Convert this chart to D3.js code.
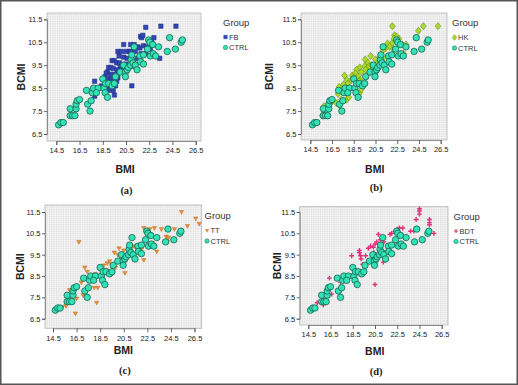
<!DOCTYPE html>
<html>
<head>
<meta charset="utf-8">
<script src="https://cdn.jsdelivr.net/npm/d3@7"></script>
<style>
  body { margin: 0; background: #fff; }
  svg { display: block; }
</style>
</head>
<body>
<svg width="518" height="385"></svg>
<script>
// tick labels
const xTicks = [14.5, 16.5, 18.5, 20.5, 22.5, 24.5, 26.5];
const yTicks = [6.5, 7.5, 8.5, 9.5, 10.5, 11.5];

// control group, same in all four panels  [BMI, BCMI]
const ctrl = [
  [14.7, 6.9], [14.9, 7.0], [15.1, 7.0],
  [15.7, 7.3], [15.9, 7.3], [16.1, 7.3],
  [15.7, 7.6], [16.2, 7.6], [16.2, 7.8], [16.3, 7.95], [16.5, 8.0],
  [17.1, 8.4], [17.2, 7.8], [17.4, 7.5], [17.5, 7.95], [17.6, 8.3], [17.7, 8.5], [18.1, 8.5], [17.95, 8.3],
  [18.5, 8.9], [18.6, 8.5], [18.7, 8.3], [18.9, 8.1], [18.75, 8.7], [19.0, 8.7], [19.3, 8.6], [19.5, 8.7], [19.6, 9.0],
  [20.0, 9.2], [20.3, 9.5], [20.45, 9.2], [20.45, 9.0], [20.6, 9.3], [20.7, 9.4], [20.9, 9.5], [20.95, 9.75],
  [21.1, 9.6], [21.0, 9.95], [21.3, 9.5], [21.45, 9.3], [21.2, 10.3], [21.7, 9.9], [21.75, 9.65], [22.0, 9.95],
  [22.35, 10.2], [22.0, 9.55], [22.45, 10.6], [22.55, 10.5], [22.6, 9.9], [22.85, 10.0], [23.05, 9.9], [22.8, 10.4],
  [23.3, 10.3], [24.05, 10.1], [24.25, 10.7], [24.75, 10.2], [25.25, 10.5], [25.35, 10.6]
];

const fb = [
  [22.2, 11.15], [23.5, 11.2], [24.8, 11.2],
  [21.75, 10.75], [21.85, 10.7], [21.95, 10.8], [22.5, 10.6], [22.7, 10.5], [22.9, 10.7],
  [20.3, 10.4], [20.9, 10.4], [21.2, 10.4], [21.5, 10.3], [21.7, 10.25], [22.0, 10.35], [22.3, 10.3], [22.6, 10.2],
  [19.8, 10.1], [20.1, 10.1], [20.5, 10.1], [20.8, 10.1], [20.9, 10.1], [21.3, 10.1], [21.8, 10.0], [22.2, 10.0],
  [19.9, 9.9], [20.3, 9.85], [20.6, 9.8], [21.1, 9.7], [21.5, 9.8], [23.4, 9.8],
  [19.3, 9.7], [19.5, 9.7], [19.7, 9.6], [19.95, 9.6], [20.5, 9.55], [21.0, 9.45],
  [19.0, 9.4], [19.2, 9.4], [19.4, 9.35], [19.75, 9.3], [20.0, 9.4], [20.2, 9.3],
  [18.9, 9.2], [18.8, 9.15], [19.2, 9.1], [19.6, 9.1], [19.9, 9.2], [20.2, 9.25],
  [18.7, 9.0], [18.9, 8.9], [19.2, 8.9], [19.3, 8.8], [19.7, 8.8], [19.8, 8.95],
  [18.4, 8.6], [18.7, 8.6], [19.1, 8.6], [19.0, 8.4], [19.4, 8.4], [19.6, 8.6], [19.5, 8.2],
  [17.8, 8.8], [17.8, 8.15], [21.0, 8.6]
];

const hk = [
  [22.05, 11.2], [24.9, 11.2], [26.25, 11.2], [24.45, 11.0],
  [22.25, 10.8], [22.45, 10.75], [22.2, 10.65], [22.65, 10.65], [22.5, 10.55],
  [22.0, 10.45], [21.6, 10.45], [21.8, 10.3], [22.15, 10.2], [21.45, 10.25], [21.2, 10.15],
  [22.95, 10.4], [23.3, 10.4], [23.1, 10.0],
  [20.05, 9.9], [20.5, 9.75], [20.9, 9.85], [21.2, 9.8], [19.55, 9.75], [19.8, 9.6],
  [19.5, 9.45], [19.9, 9.45], [20.15, 9.5], [19.05, 9.4], [18.75, 9.3], [19.2, 9.2],
  [19.6, 9.3], [20.0, 9.2], [20.25, 9.3], [20.65, 9.55], [20.75, 9.35],
  [18.35, 9.05], [18.65, 9.15], [18.9, 9.0], [18.25, 8.85], [18.5, 8.95], [19.1, 8.85], [19.0, 8.8],
  [17.65, 9.05], [17.85, 8.85], [17.95, 8.7], [17.55, 8.65], [17.15, 8.55], [17.05, 8.25],
  [17.35, 8.0], [17.85, 8.0], [18.05, 8.1], [16.9, 7.85], [17.2, 7.75],
  [16.45, 7.9], [16.3, 7.8], [15.75, 7.7], [15.75, 7.6], [15.6, 7.3],
  [19.05, 8.3], [19.2, 8.45]
];

const tt = [
  [25.4, 11.5], [26.6, 11.2], [26.9, 10.95], [25.9, 10.85], [16.7, 10.1],
  [22.2, 10.75], [22.7, 10.7], [23.1, 10.75], [23.7, 10.7], [24.3, 10.75], [24.8, 10.7],
  [24.1, 10.35], [24.3, 10.3], [24.2, 10.1], [23.3, 9.65], [22.9, 10.05], [22.8, 9.9],
  [21.0, 10.0], [21.3, 9.9], [20.9, 9.8], [21.5, 9.85], [21.7, 9.7], [22.0, 9.75],
  [20.1, 9.8], [20.5, 9.7], [19.7, 9.6], [20.0, 9.5], [20.3, 9.4], [20.6, 9.3],
  [19.3, 9.2], [19.1, 9.1], [18.8, 9.0], [19.5, 9.0], [19.0, 8.8], [19.8, 8.9],
  [20.6, 8.65], [22.2, 9.25],
  [17.2, 8.9], [17.4, 8.7], [17.9, 8.5], [18.4, 8.5], [18.1, 8.6],
  [18.0, 7.95], [18.3, 7.95], [18.2, 7.25], [16.4, 6.75],
  [15.9, 7.85], [16.1, 7.7], [16.5, 7.45], [15.3, 7.05], [15.6, 7.1], [17.05, 7.6], [16.9, 8.2]
];

const bdt = [
  [24.5, 11.65], [24.5, 11.55], [24.5, 11.4], [24.2, 11.15], [25.4, 11.15], [25.4, 11.0], [25.4, 10.9], [25.8, 10.5],
  [23.7, 10.6], [24.0, 10.6], [22.7, 10.75], [23.0, 10.75], [22.3, 10.6], [22.0, 10.5], [21.85, 10.45],
  [20.5, 10.0], [20.65, 10.1], [20.35, 9.85], [20.4, 9.6], [20.55, 9.45], [20.1, 9.9], [21.3, 10.1], [21.4, 9.6], [21.25, 9.15], [19.9, 9.8],
  [19.1, 9.7], [19.1, 9.6], [19.2, 9.45], [19.25, 9.3], [19.4, 9.05], [19.65, 9.45], [18.4, 9.45], [18.55, 8.8], [20.5, 8.1],
  [16.4, 8.4], [16.6, 7.65], [15.85, 7.15], [15.3, 7.25], [17.4, 8.2], [18.1, 8.5], [20.8, 10.45], [21.0, 10.2], [22.5, 10.7]
];

const groupNames = ['FB', 'HK', 'TT', 'BDT'];
const panelLetters = ['(a)', '(b)', '(c)', '(d)'];
const groupData = [fb, hk, tt, bdt];

// marker shapes
const shapes = {
  square: s => `M${-s},${-s}H${s}V${s}H${-s}Z`,
  diamond: s => `M0,${-s * 1.25}L${s},0L0,${s * 1.25}L${-s},0Z`,
  tri: s => `M${-s * 1.2},${-s * 0.8}L${s * 1.2},${-s * 0.8}L0,${s * 1.3}Z`,
  cross: s => `M${-s * 0.35},${-s * 1.2}h${s * 0.7}v${s * 0.85}h${s * 0.85}v${s * 0.7}h${-s * 0.85}v${s * 0.85}h${-s * 0.7}v${-s * 0.85}h${-s * 0.85}v${-s * 0.7}h${s * 0.85}Z`
};
const styles = [
  { shape: 'square', size: 2.2, fill: '#3246b4', stroke: '#1b2a84' },
  { shape: 'diamond', size: 2.9, fill: '#a9dc2a', stroke: '#5f7d10' },
  { shape: 'tri', size: 1.8, fill: '#e8923a', stroke: '#c06a1e' },
  { shape: 'cross', size: 2.0, fill: '#e0307c', stroke: 'none' }
];
const ctrlStyle = { fill: '#33e3b8', stroke: '#16604c' };

// panel layout: plot box, pixel spots of first/last tick, label spots
const panels = [
  { box: [47, 13, 201, 141], xr: [56.3, 195.7], yr: [134, 19.3], yLab: 25, bmiX: 125, bmiY: 173, letY: 194, legX: 223, legY: 25.5 },
  { box: [301, 13, 447, 140], xr: [310.3, 440.7], yr: [134, 19.3], yLab: 273, bmiX: 374.7, bmiY: 173, letY: 191, legX: 452, legY: 26 },
  { box: [45, 205, 201.7, 328.3], xr: [53, 194.5], yr: [318.7, 212], yLab: 24, bmiX: 123.3, bmiY: 354, letY: 373.5, legX: 204.5, legY: 219 },
  { box: [299.7, 206.7, 448, 325], xr: [308.3, 441.7], yr: [318.7, 212], yLab: 281, bmiX: 374.7, bmiY: 355, letY: 374.5, legX: 453.5, legY: 219.5 }
];

const narrow = '"Liberation Sans Narrow", "Arial Narrow", "Liberation Sans", sans-serif';
const svg = d3.select('svg');

svg.append('rect').attr('width', 518).attr('height', 385).attr('fill', '#fff');

panels.forEach((p, i) => {
  const [x0, y0, x1, y1] = p.box;
  const x = d3.scaleLinear().domain([xTicks[0], xTicks[xTicks.length - 1]]).range(p.xr);
  const y = d3.scaleLinear().domain([yTicks[0], yTicks[yTicks.length - 1]]).range(p.yr);
  const g = svg.append('g');

  // plot background + fine grid
  g.append('rect').attr('x', x0).attr('y', y0).attr('width', x1 - x0).attr('height', y1 - y0).attr('fill', '#fbfbfb');
  const gx = d3.range(Math.ceil(x.invert(x0) * 5), Math.floor(x.invert(x1) * 5) + 1).map(v => v / 5);
  const gy = d3.range(Math.ceil(y.invert(y1) * 10), Math.floor(y.invert(y0) * 10) + 1).map(v => v / 10);
  g.append('g').selectAll('line').data(gx).join('line')
    .attr('x1', d => x(d)).attr('x2', d => x(d)).attr('y1', y0).attr('y2', y1)
    .attr('stroke', '#d6d6d6').attr('stroke-width', 0.5);
  g.append('g').selectAll('line').data(gy).join('line')
    .attr('y1', d => y(d)).attr('y2', d => y(d)).attr('x1', x0).attr('x2', x1)
    .attr('stroke', '#d6d6d6').attr('stroke-width', 0.5);
  g.append('rect').attr('x', x0).attr('y', y0).attr('width', x1 - x0).attr('height', y1 - y0)
    .attr('fill', 'none').attr('stroke', '#b4b4b4').attr('stroke-width', 0.8);

  // axes
  const ax = g.append('g').attr('transform', `translate(0,${y1})`)
    .call(d3.axisBottom(x).tickValues(xTicks).tickFormat(d3.format('.1f')).tickSize(4).tickPadding(3));
  const ay = g.append('g').attr('transform', `translate(${x0},0)`)
    .call(d3.axisLeft(y).tickValues(yTicks).tickFormat(d3.format('.1f')).tickSize(3).tickPadding(1.5));
  [ax, ay].forEach(a => {
    a.select('.domain').attr('stroke', '#777').attr('stroke-width', 0.8);
    a.selectAll('.tick line').attr('stroke', '#444').attr('stroke-width', 0.8);
    a.selectAll('text').attr('font-family', narrow).attr('font-size', 7.5).attr('fill', '#222');
  });

  // points: group first, control on top
  const st = styles[i];
  g.append('g').selectAll('path').data(groupData[i]).join('path')
    .attr('d', shapes[st.shape](st.size))
    .attr('transform', d => `translate(${x(d[0])},${y(d[1])})`)
    .attr('fill', st.fill).attr('stroke', st.stroke).attr('stroke-width', 0.5);
  g.append('g').selectAll('circle').data(ctrl).join('circle')
    .attr('cx', d => x(d[0])).attr('cy', d => y(d[1])).attr('r', 3.2)
    .attr('fill', ctrlStyle.fill).attr('stroke', ctrlStyle.stroke).attr('stroke-width', 0.8);

  // titles
  g.append('text').attr('transform', `translate(${p.yLab},${(y0 + y1) / 2}) rotate(-90)`)
    .attr('text-anchor', 'middle').attr('font-family', '"Liberation Sans", Arial, sans-serif')
    .attr('font-weight', 'bold').attr('font-size', 10.5).attr('fill', '#222').text('BCMI');
  g.append('text').attr('x', p.bmiX).attr('y', p.bmiY)
    .attr('text-anchor', 'middle').attr('font-family', '"Liberation Sans", Arial, sans-serif')
    .attr('font-weight', 'bold').attr('font-size', 10.5).attr('fill', '#222').text('BMI');
  g.append('text').attr('x', p.bmiX + 1.5).attr('y', p.letY)
    .attr('text-anchor', 'middle').attr('font-family', '"Liberation Serif", serif')
    .attr('font-weight', 'bold').attr('font-size', 10.5).attr('fill', '#222').text(panelLetters[i]);

  // legend
  const lg = g.append('g').attr('font-family', narrow).attr('fill', '#333');
  lg.append('text').attr('x', p.legX).attr('y', p.legY).attr('font-size', 9.5).text('Group');
  lg.append('path').attr('d', shapes[st.shape](st.size * 0.8))
    .attr('transform', `translate(${p.legX + 2.5},${p.legY + 11.5})`)
    .attr('fill', st.fill).attr('stroke', st.stroke).attr('stroke-width', 0.4);
  lg.append('text').attr('x', p.legX + 6).attr('y', p.legY + 14).attr('font-size', 7.5).text(groupNames[i]);
  lg.append('circle').attr('cx', p.legX + 2.5).attr('cy', p.legY + 22).attr('r', 2.2)
    .attr('fill', ctrlStyle.fill).attr('stroke', ctrlStyle.stroke).attr('stroke-width', 0.5);
  lg.append('text').attr('x', p.legX + 6).attr('y', p.legY + 24.5).attr('font-size', 7.5).text('CTRL');
});

// outer frame
svg.append('rect').attr('x', 0.75).attr('y', 0.75).attr('width', 516.5).attr('height', 383.5)
  .attr('fill', 'none').attr('stroke', '#555').attr('stroke-width', 1.5);
</script>
</body>
</html>
